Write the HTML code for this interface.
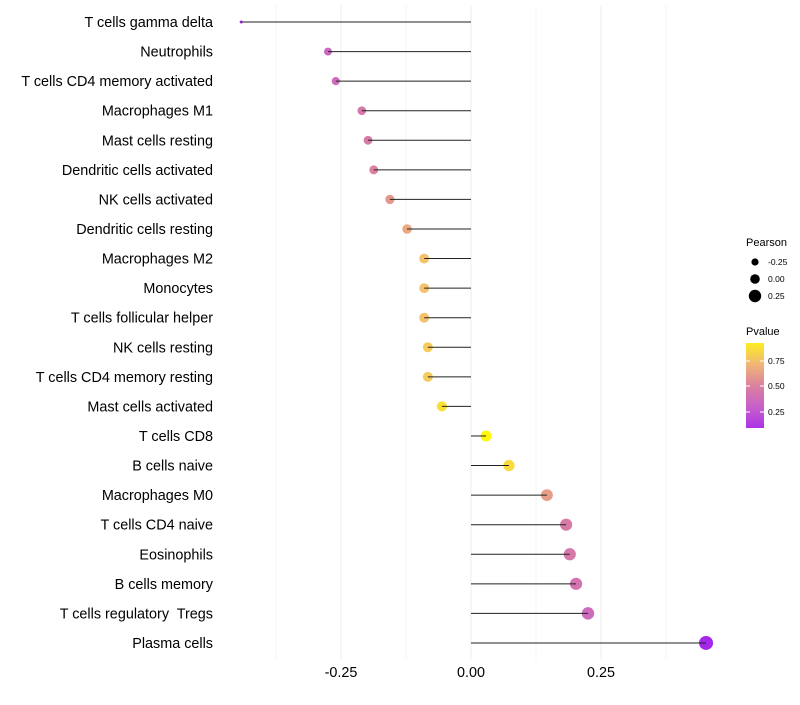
<!DOCTYPE html>
<html><head><meta charset="utf-8"><style>
body{margin:0;background:#fff;font-family:"Liberation Sans",sans-serif}
text{white-space:pre}
</style></head><body>
<svg id="c" width="800" height="700" xmlns="http://www.w3.org/2000/svg"></svg>
<script>
const categories=["T cells gamma delta","Neutrophils","T cells CD4 memory activated","Macrophages M1","Mast cells resting","Dendritic cells activated","NK cells activated","Dendritic cells resting","Macrophages M2","Monocytes","T cells follicular helper","NK cells resting","T cells CD4 memory resting","Mast cells activated","T cells CD8","B cells naive","Macrophages M0","T cells CD4 naive","Eosinophils","B cells memory","T cells regulatory  Tregs","Plasma cells"];
const pearson=[-0.442,-0.275,-0.26,-0.21,-0.198,-0.187,-0.156,-0.123,-0.09,-0.09,-0.09,-0.083,-0.083,-0.056,0.029,0.073,0.146,0.183,0.19,0.202,0.225,0.452];
const pvalue=[0.05,0.33,0.36,0.45,0.47,0.5,0.6,0.66,0.76,0.76,0.76,0.8,0.8,0.88,0.97,0.86,0.62,0.47,0.45,0.42,0.36,0.03];
const xTicks=[-0.25,0,0.25];
const xTickLabels=["-0.25","0.00","0.25"];
const svg=document.getElementById('c');const NS="http://www.w3.org/2000/svg";
function x(v){return 471+v*520;}
function y(i){return 22+i*29.57;}
function el(t,a,p){const e=document.createElementNS(NS,t);for(const k in a)e.setAttribute(k,a[k]);(p||svg).appendChild(e);return e;}
function lerp(a,b,t){return a.map((v,i)=>Math.round(v+(b[i]-v)*t));}
function col(p){const st=[[160,32,240],[196,90,210],[218,128,160],[244,190,112],[255,255,0]];let t=Math.max(0,Math.min(1,p))*4;let i=Math.min(3,Math.floor(t));const c=lerp(st[i],st[i+1],t-i);return `rgb(${c[0]},${c[1]},${c[2]})`;}
function rad(v){let a;if(v<-0.275){a=2.25+(v+0.442)/0.167*13.75;}else{a=16+(v+0.275)/0.727*33;}return Math.sqrt(a);}
for(const v of [-0.375,-0.125,0.125,0.375]){const g=el('line',{x1:x(v),x2:x(v),y1:5,y2:660,stroke:'#f6f6f6','stroke-width':1});}
xTicks.forEach((v,i)=>{const g=el('line',{x1:x(v),x2:x(v),y1:5,y2:660,stroke:'#ececec','stroke-width':1});
const t=el('text',{x:x(v),y:677,'font-size':14.4,'text-anchor':'middle',fill:'#000'});t.textContent=xTickLabels[i];});
categories.forEach((c,i)=>{
const t=el('text',{x:213,y:y(i)+5,'font-size':14.4,'text-anchor':'end',fill:'#000'});t.textContent=c;
const d=el('circle',{cx:x(pearson[i]),cy:y(i),r:rad(pearson[i]),fill:col(pvalue[i])});
const l=el('line',{x1:x(0),x2:x(pearson[i]),y1:y(i),y2:y(i),stroke:'#222','stroke-width':1});
});
const lt=el('text',{x:746,y:246,'font-size':11});lt.textContent='Pearson';
[[-0.25,262,3.6],[0,279,4.8],[0.25,296,6.2]].forEach(([v,yy,r],i)=>{const c=el('circle',{cx:755,cy:yy,r:r,fill:'#000'});
const t=el('text',{x:768,y:yy+3,'font-size':8.5});t.textContent=xTickLabels[i];});
const pt=el('text',{x:746,y:335,'font-size':11});pt.textContent='Pvalue';
const defs=el('defs',{});const gr=el('linearGradient',{id:'g',x1:0,y1:1,x2:0,y2:0},defs);
[0,0.25,0.5,0.75,1].forEach(o=>{el('stop',{offset:o,'stop-color':col(0.08+o*0.85)},gr);});
const bar=el('rect',{x:746,y:343,width:18,height:85,fill:'url(#g)'});
[[0.75,361],[0.5,386],[0.25,412]].forEach(([v,yy])=>{el('line',{x1:746,x2:750,y1:yy,y2:yy,stroke:'#fff'});el('line',{x1:760,x2:764,y1:yy,y2:yy,stroke:'#fff'});
const t=el('text',{x:768,y:yy+3,'font-size':8.5});t.textContent=v.toFixed(2);});
</script>
</body></html>
